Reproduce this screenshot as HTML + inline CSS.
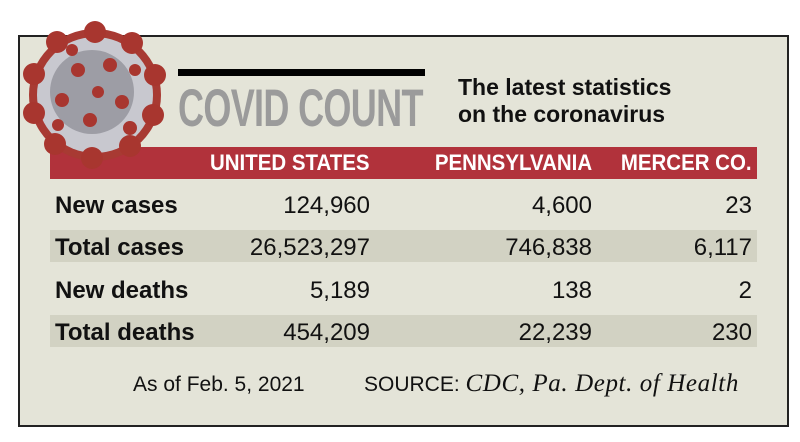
<!DOCTYPE html>
<html><head><meta charset="utf-8"><style>
*{margin:0;padding:0;box-sizing:border-box}
body{width:800px;height:442px;background:#fff;position:relative;overflow:hidden;font-family:"Liberation Sans",sans-serif}
.abs{position:absolute;white-space:nowrap}
#box{left:18px;top:35px;width:771px;height:392px;background:#e4e4d8;border:2px solid #222}
.band{position:absolute;left:50px;width:707px;height:32px;background:#d2d2c3}
.hdr{position:absolute;top:147px;left:50px;width:707px;height:32px;background:#b1323b}
.h{position:absolute;top:150px;color:#fff;font-weight:bold;font-size:22px;text-align:right;transform:scaleX(0.93);transform-origin:right top}
.lab{position:absolute;left:55px;font-weight:bold;font-size:24px;color:#111}
.num{position:absolute;font-size:24px;color:#111;text-align:right;width:200px}
</style></head><body>
<div id="box" class="abs"></div>
<div class="abs" style="left:178px;top:69px;width:247px;height:7px;background:#000"></div>
<div class="abs" style="left:178px;top:78px;font-size:53px;font-weight:bold;color:#9b9b9b;transform:scaleX(0.68);transform-origin:left top;letter-spacing:-1px">COVID COUNT</div>
<div class="abs" style="left:458px;top:74px;font-size:23px;font-weight:bold;color:#111;line-height:27px;white-space:normal;width:300px">The latest statistics<br>on the coronavirus</div>
<div class="hdr"></div>
<div class="h" style="right:430px">UNITED STATES</div>
<div class="h" style="right:208px">PENNSYLVANIA</div>
<div class="h" style="right:48px">MERCER CO.</div>
<div class="band" style="top:230px"></div>
<div class="band" style="top:315px"></div>

<div class="lab" style="top:192px">New cases</div>
<div class="lab" style="top:234px">Total cases</div>
<div class="lab" style="top:277px">New deaths</div>
<div class="lab" style="top:319px">Total deaths</div>

<div class="num" style="top:192px;left:170px">124,960</div>
<div class="num" style="top:234px;left:170px">26,523,297</div>
<div class="num" style="top:277px;left:170px">5,189</div>
<div class="num" style="top:319px;left:170px">454,209</div>
<div class="num" style="top:192px;left:392px">4,600</div>
<div class="num" style="top:234px;left:392px">746,838</div>
<div class="num" style="top:277px;left:392px">138</div>
<div class="num" style="top:319px;left:392px">22,239</div>
<div class="num" style="top:192px;left:552px">23</div>
<div class="num" style="top:234px;left:552px">6,117</div>
<div class="num" style="top:277px;left:552px">2</div>
<div class="num" style="top:319px;left:552px">230</div>

<div class="abs" style="left:133px;top:373px;font-size:21px;color:#111">As of Feb. 5, 2021</div>
<div class="abs" style="left:364px;top:370px;font-size:21px;color:#111">SOURCE: <span style="font-family:'Liberation Serif',serif;font-style:italic;font-size:25px;letter-spacing:0.6px">CDC, Pa. Dept. of Health</span></div>

<svg class="abs" style="left:10px;top:10px" width="160" height="160" viewBox="0 0 160 160">
<circle cx="85" cy="85" r="66" fill="#a83a33"/>
<circle cx="85" cy="85" r="58" fill="#c8c8cf"/>
<circle cx="82" cy="82" r="42" fill="#9d9da5"/>
<g fill="#a8362f">
<circle cx="85" cy="22" r="11"/><circle cx="122" cy="33" r="11"/><circle cx="145" cy="65" r="11"/><circle cx="143" cy="105" r="11"/><circle cx="120" cy="136" r="11"/><circle cx="82" cy="148" r="11"/><circle cx="45" cy="134" r="11"/><circle cx="24" cy="103" r="11"/><circle cx="24" cy="64" r="11"/><circle cx="47" cy="32" r="11"/>
<circle cx="68" cy="60" r="7"/><circle cx="100" cy="55" r="7"/><circle cx="112" cy="92" r="7"/><circle cx="80" cy="110" r="7"/><circle cx="52" cy="90" r="7"/><circle cx="88" cy="82" r="6"/><circle cx="120" cy="118" r="7"/><circle cx="48" cy="115" r="6"/><circle cx="62" cy="40" r="6"/><circle cx="125" cy="60" r="6"/>
</g>
</svg>
</body></html>
